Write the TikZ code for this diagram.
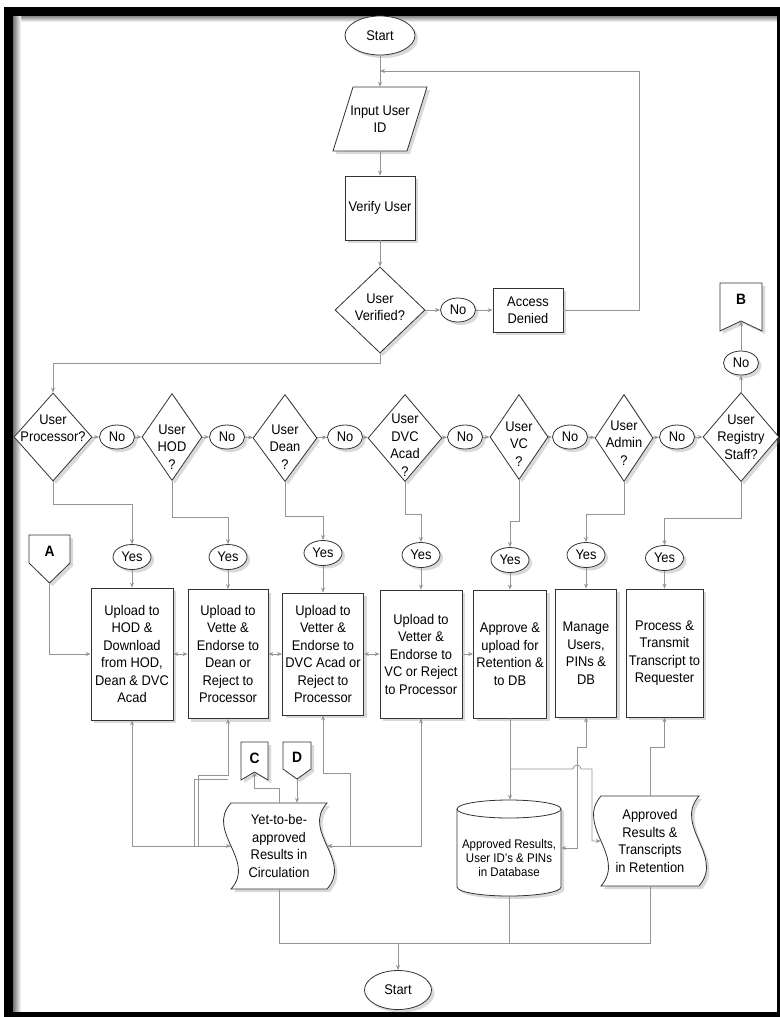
\documentclass[tikz,border=0pt]{standalone}
\usepackage{fontspec}
\setmainfont{Liberation Sans}[FakeStretch=0.92]
\usetikzlibrary{arrows.meta,shadows,shapes.geometric,calc}
\begin{document}
\begin{tikzpicture}[x=1pt,y=-1pt,
  font=\fontsize{14}{17.5}\selectfont,
  con/.style={draw=black!42, line width=0.8pt, -{Stealth[length=5pt,width=4pt]}},
  con2/.style={draw=black!42, line width=0.8pt, {Stealth[length=5pt,width=4pt]}-{Stealth[length=5pt,width=4pt]}},
  cline/.style={draw=black!42, line width=0.8pt},
  shd/.style={drop shadow={shadow xshift=3pt, shadow yshift=-3pt, opacity=0.3}},
  shp/.style={draw=black!80, line width=0.8pt, fill=white, shd},
  term/.style={shp, ellipse, minimum width=#1, minimum height=39pt, inner sep=0pt},
  term/.default=70pt,
  yn/.style={shp, ellipse, minimum width=38pt, minimum height=25pt, inner sep=0pt},
  nob/.style={shp, ellipse, minimum width=35pt, minimum height=24pt, inner sep=0pt},
  proc/.style={shp, rectangle, align=center, inner sep=1pt},
  dec/.style={shp, diamond, inner sep=0pt},
  lbl/.style={align=center},
  txt/.style={align=center, inner sep=0pt},
  ltr/.style={font=\fontsize{15}{18}\selectfont\bfseries, inner sep=0pt}
]
\useasboundingbox (0,0) rectangle (779,1017);
% frame
\shade[top color=black!55, bottom color=white] (13,15) rectangle (777,22);
\shade[left color=black!55, right color=white] (13,15) rectangle (21,1012);
\draw[line width=9pt] (8.5,11) rectangle (781.5,1016);

% ---------- top part ----------
\node[term] (start1) at (380,35.5) {Start};
\draw[shp] (333,151) -- (353,87) -- (427,87) -- (407,151) -- cycle;
\node[txt, minimum width=94pt, minimum height=64pt] (inp) at (380,119) {Input User\\ID};
\node[proc, minimum width=70pt, minimum height=64pt] (ver) at (380,208) {Verify User};
\node[dec, minimum width=90pt, minimum height=86pt,
      label={[lbl,yshift=3pt]center:{User\\Verified?}}] (uv) at (380,310) {};
\node[nob] (no0) at (458,310) {No};
\node[proc, minimum width=70pt, minimum height=44pt] (acc) at (528,310) {Access\\Denied};
\coordinate (j1) at (380,71);

\draw[con] (start1) -- (inp.north);
\draw[con] (inp.south) -- (ver);
\draw[con] (ver) -- (uv);
\draw[con] (uv) -- (no0);
\draw[con] (no0) -- (acc);
\draw[con] (acc.east) -- (639,310) -- (639,71) -- (j1);

% ---------- decision row ----------
\node[dec, minimum width=78pt, minimum height=88pt,
      label={[lbl,yshift=9pt]center:{User\\Processor?}}] (p1) at (53,437) {};
\node[dec, minimum width=60pt, minimum height=87pt,
      label={[lbl,yshift=-10pt]center:{User\\HOD\\?}}] (p2) at (172,437) {};
\node[dec, minimum width=64pt, minimum height=87pt,
      label={[lbl,yshift=-9pt]center:{User\\Dean\\?}}] (p3) at (285,438) {};
\node[dec, minimum width=74pt, minimum height=87pt,
      label={[lbl,yshift=-7pt]center:{User\\DVC\\Acad\\?}}] (p4) at (405,438) {};
\node[dec, minimum width=58pt, minimum height=85pt,
      label={[lbl,yshift=-7pt]center:{User\\VC\\?}}] (p5) at (519,437) {};
\node[dec, minimum width=58pt, minimum height=87pt,
      label={[lbl,yshift=-5pt]center:{User\\Admin\\?}}] (p6) at (624,438) {};
\node[dec, minimum width=76pt, minimum height=89pt,
      label={[lbl]center:{User\\Registry\\Staff?}}] (p7) at (741,437) {};

\node[nob] (n1) at (117,437) {No};
\node[nob] (n2) at (227,437) {No};
\node[nob] (n3) at (345,437) {No};
\node[nob] (n4) at (465,437) {No};
\node[nob] (n5) at (570,437) {No};
\node[nob] (n6) at (677,437) {No};
\node[nob] (nb) at (741,363) {No};

% B connector
\draw[shp] (720,283) -- (762,283) -- (762,331) -- (741,321) -- (720,331) -- cycle;
\node[ltr] (B) at (741,299) {B};
\coordinate (Bn) at (741,321);

\draw[con] (uv.south) -- (380,363) -| (p1.north);
\draw[con] (p1) -- (n1); \draw[con] (n1) -- (p2);
\draw[con] (p2) -- (n2); \draw[con] (n2) -- (p3);
\draw[con] (p3) -- (n3); \draw[con] (n3) -- (p4);
\draw[con] (p4) -- (n4); \draw[con] (n4) -- (p5);
\draw[con] (p5) -- (n5); \draw[con] (n5) -- (p6);
\draw[con] (p6) -- (n6); \draw[con] (n6) -- (p7);
\draw[con] (p7) -- (nb); \draw[con] (nb) -- (Bn);

% ---------- yes row ----------
\node[yn] (y1) at (132,557) {Yes};
\node[yn] (y2) at (228,557) {Yes};
\node[yn] (y3) at (323,553) {Yes};
\node[yn] (y4) at (421,555) {Yes};
\node[yn] (y5) at (510,560) {Yes};
\node[yn] (y6) at (586,555) {Yes};
\node[yn] (y7) at (664.5,558) {Yes};

\draw[con] (p1.south) -- ++(0,23) -| (y1.north);
\draw[con] (p2.south) -- ++(0,36) -| (y2.north);
\draw[con] (p3.south) -- ++(0,34) -| (y3.north);
\draw[con] (p4.south) -- ++(0,32) -| (y4.north);
\draw[con] (p5.south) -- ++(0,41) -| (y5.north);
\draw[con] (p6.south) -- ++(0,32) -| (y6.north);
\draw[con] (p7.south) -- ++(0,36) -| (y7.north);

% ---------- process boxes ----------
\node[proc, minimum width=82pt, minimum height=132pt] (b1) at (132,654)
  {Upload to\\HOD \&\\Download\\from HOD,\\Dean \& DVC\\Acad};
\node[proc, minimum width=80pt, minimum height=129pt] (b2) at (228,654)
  {Upload to\\Vette \&\\Endorse to\\Dean or\\Reject to\\Processor};
\node[proc, minimum width=81pt, minimum height=122pt] (b3) at (323,654)
  {Upload to\\Vetter \&\\Endorse to\\DVC Acad or\\Reject to\\Processor};
\node[proc, minimum width=82pt, minimum height=128pt] (b4) at (421,654)
  {Upload to\\Vetter \&\\Endorse to\\VC or Reject\\to Processor};
\node[proc, minimum width=73pt, minimum height=128pt] (b5) at (510,654)
  {Approve \&\\upload for\\Retention \&\\to DB};
\node[proc, minimum width=61pt, minimum height=128pt] (b6) at (586,653)
  {Manage\\Users,\\PINs \&\\DB};
\node[proc, minimum width=77pt, minimum height=128pt] (b7) at (664.5,653)
  {Process \&\\Transmit\\Transcript to\\Requester};

\draw[con] (y1) -- (b1); \draw[con] (y2) -- (b2); \draw[con] (y3) -- (b3);
\draw[con] (y4) -- (b4); \draw[con] (y5) -- (b5); \draw[con] (y6) -- (b6);
\draw[con] (y7) -- (b7);
\draw[con2] (b1) -- (b2);
\draw[con2] (b2) -- (b3);
\draw[con2] (b3) -- (b4);
\draw[con] (b4) -- (b5);

% A connector
\draw[shp] (29,535) -- (70,535) -- (70,563) -- (49.5,583) -- (29,563) -- cycle;
\node[ltr] (A) at (49.5,551) {A};
\coordinate (Ap) at (49.5,583);
\draw[con] (Ap) |- (b1.west);

% C and D connectors
\draw[shp] (241,742) -- (268,742) -- (268,780) -- (254.5,772) -- (241,780) -- cycle;
\node[ltr] (C) at (254.5,758) {C};
\coordinate (Cn) at (254.5,772);
\draw[shp] (283,742) -- (311,742) -- (311,769) -- (297,779) -- (283,769) -- cycle;
\node[ltr] (D) at (297,757) {D};
\coordinate (Dp) at (297,779);

% ---------- stores ----------
% yet-to-be-approved
\draw[shp] (231,803) -- (327,803) .. controls (301,832) and (353,860) .. (327,889)
  -- (231,889) .. controls (257,860) and (205,832) .. (231,803) -- cycle;
\node[txt, minimum width=96pt, minimum height=86pt] (doc) at (279,846)
  {Yet-to-be-\\approved\\Results in\\Circulation};
% database
\draw[shp] (457,809) -- (457,887) arc[start angle=180, end angle=360, x radius=52pt, y radius=9pt]
  -- (561,809) arc[start angle=0, end angle=180, x radius=52pt, y radius=9pt] -- cycle;
\draw[draw=black!80, line width=0.8pt] (457,809) arc[start angle=180, end angle=360, x radius=52pt, y radius=9pt];
\node[txt, minimum width=104pt, minimum height=96pt,
      label={[lbl, font=\fontsize{12.5}{14}\selectfont, yshift=-10pt]center:{Approved Results,\\User ID's \& PINs\\in Database}}] (db) at (509,848) {};
% retention
\draw[shp] (601,796) -- (699,796) .. controls (673,826) and (725,856) .. (699,886)
  -- (601,886) .. controls (627,856) and (575,826) .. (601,796) -- cycle;
\node[txt, minimum width=98pt, minimum height=90pt] (ret) at (650,841)
  {Approved\\Results \&\\Transcripts\\in Retention};

\node[term=67pt] (start2) at (398,990) {Start};

% ---------- lower connectors ----------
\draw[con2] (b1.south) |- (doc.west);
\draw[con] (doc.west) -- (198,846) -- (198,775) -| (b2.south);
\draw[cline] (194,846) -- (194,779) -- (228,779);
\draw[con] (doc.north) -- (279,788) -| (Cn);
\draw[con] (Dp) -- (Dp |- doc.north);
\draw[con2] (b3.south) |- (350,773) |- (doc.east);
\draw[con2] (b4.south) |- (doc.east);

\coordinate (k5) at (510,769);
\draw[con] (b5.south) -- (b5.south |- db.north);
\draw[con] (k5) -- (573,769) arc[start angle=180, end angle=0, radius=4pt] -- (592,769) -- (592,841) -- (ret.west);
\draw[con2] (b6.south) |- (577,747) |- (db.east);
\draw[con] (ret.north) -- (650,747) -| (b7.south);

\coordinate (m1) at (279,943);
\coordinate (m2) at (650,943);
\coordinate (m0) at (398,943);
\draw[cline] (doc.south) -- (m1) -- (m2) -- (ret.south);
\draw[cline] (db.south) -- (db.south |- m0);
\draw[con] (m0) -- (start2);
\end{tikzpicture}
\end{document}
